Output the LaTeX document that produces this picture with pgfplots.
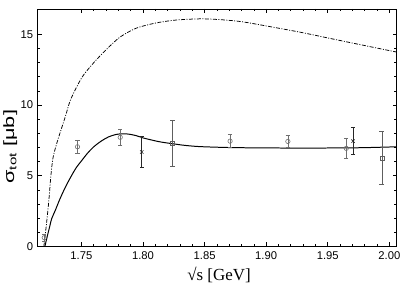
\documentclass[border=0pt]{standalone}
\usepackage{fontspec}
\setmainfont{Liberation Sans}
\newfontfamily\timesfont{Liberation Serif}
\usepackage{graphicx}
\usepackage{pgfplots}
\pgfplotsset{compat=1.18}
\definecolor{ptgray}{RGB}{110,110,110}
\begin{document}
\begin{tikzpicture}
\begin{axis}[
  scale only axis,
  width=360.7pt, height=238.5pt,
  xmin=1.7144, xmax=2.006, ymin=0, ymax=16.8,
  xtick={1.75,1.80,1.85,1.90,1.95,2.00},
  ytick={0,5,10,15},
  minor x tick num=4, minor y tick num=4,
  major tick length=4pt, minor tick length=2.3pt,
  tick align=inside,
  x tick label style={yshift=-2pt, /pgf/number format/fixed, /pgf/number format/fixed zerofill, /pgf/number format/precision=2},
  /pgf/number format/assume math mode=true,
  ticklabel style={font=\fontsize{11.3}{13}\selectfont},
  y tick label style={xshift=-1pt},
  axis line style={line width=0.9pt},
  every tick/.style={black, line width=0.7pt},
  xlabel={\timesfont\fontsize{17}{20}\selectfont √s [GeV]},
  xlabel style={at={(axis description cs:0.505,0)}, anchor=north, yshift=-17pt},
  ylabel={\scalebox{1.45}[1]{\fontsize{15}{18}\selectfont σ\textsubscript{tot} [μb]}},
  ylabel style={at={(axis description cs:-0.076,0.42)}, anchor=center},
  clip=false,
]
% dash-dotted curve
\addplot[black, line width=0.75pt, dash pattern=on 4pt off 1.5pt on 1pt off 1.5pt, smooth] coordinates {
(1.7195,0) (1.7215,1.5) (1.7235,3.2) (1.7252,5.0) (1.7268,6.2) (1.729,7.0)
(1.7325,8.0) (1.737,9.2) (1.7413,10.4) (1.75,11.9) (1.758,12.8) (1.766,13.56)
(1.774,14.25) (1.782,14.85) (1.7945,15.44) (1.81,15.8) (1.825,16.0) (1.839,16.08)
(1.85,16.1) (1.865,16.03) (1.88,15.9) (1.90,15.6) (1.928,15.15) (1.95,14.75)
(1.975,14.3) (2.006,13.75)
};
% solid curve
\addplot[black, line width=1.0pt, smooth] coordinates {
(1.7203,0) (1.7225,0.8) (1.7245,1.5) (1.7258,1.95) (1.7290,2.6) (1.7325,3.35)
(1.737,4.2) (1.7419,5.0) (1.746,5.6) (1.750,6.05) (1.755,6.6) (1.760,7.05)
(1.766,7.45) (1.772,7.75) (1.778,7.92) (1.783,7.97) (1.788,7.95) (1.794,7.85)
(1.800,7.68) (1.806,7.55) (1.812,7.43) (1.818,7.34) (1.824,7.27) (1.832,7.17)
(1.840,7.1) (1.847,7.06) (1.86,7.02) (1.875,6.99) (1.90,6.97) (1.93,6.96)
(1.96,6.97) (1.98,6.99) (2.006,7.05)
};
% circles
\addplot[only marks, mark=o, mark size=2.2pt, ptgray, line width=0.6pt,
  error bars/.cd, y dir=both, y explicit,
  error bar style={ptgray, line width=0.6pt},
  error mark options={rotate=90, mark size=2.2pt, ptgray, line width=0.6pt}]
  coordinates {
  (1.7198,0.62) +- (0,0.25)
  (1.7468,7.05) +- (0,0.47)
  (1.7815,7.72) +- (0,0.55)
  (1.8707,7.45) +- (0,0.47)
  (1.9176,7.43) +- (0,0.44)
  (1.965,6.94) +- (0,0.68)
};
% crosses
\addplot[only marks, mark=x, mark size=2.4pt, black!85, line width=0.6pt,
  error bars/.cd, y dir=both, y explicit,
  error bar style={black!85, line width=0.7pt},
  error mark options={rotate=90, mark size=2.2pt, black!85, line width=0.7pt}]
  coordinates {
  (1.799,6.68) +- (0,1.1)
  (1.9705,7.45) +- (0,0.95)
};
% squares
\addplot[only marks, mark=square, mark size=2.0pt, ptgray!85!black, line width=0.6pt,
  error bars/.cd, y dir=both, y explicit,
  error bar style={ptgray!85!black, line width=0.7pt},
  error mark options={rotate=90, mark size=2.4pt, ptgray!85!black, line width=0.7pt}]
  coordinates {
  (1.8241,7.3) +- (0,1.6)
  (1.9939,6.25) +- (0,1.87)
};
\end{axis}
\path ([xshift=-36pt,yshift=-37.5pt]current axis.south west) rectangle ([xshift=12.3pt,yshift=9pt]current axis.north east);
\end{tikzpicture}
\end{document}
